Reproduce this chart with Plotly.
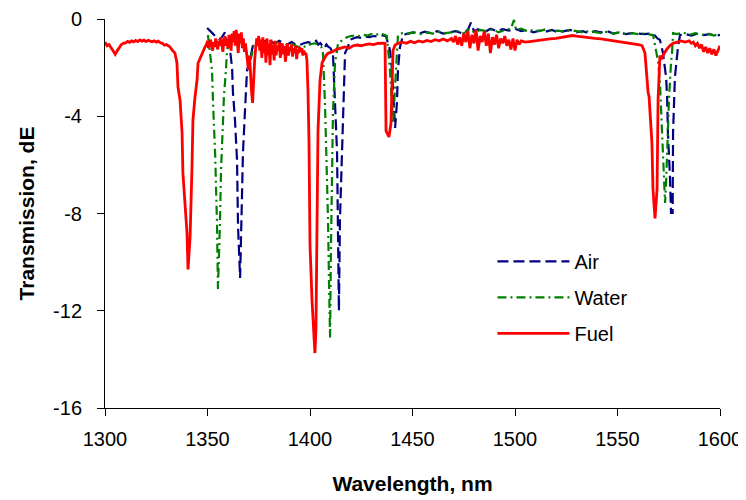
import plotly.graph_objects as go

# ---- Data ----
air_wl = [1349.8, 1351, 1352, 1353.7, 1355, 1356.1, 1357, 1358.5, 1359, 1360.0, 1361, 1362.0, 1362.4, 1363.4,
          1364.4, 1364.9, 1365.9, 1366.8, 1367.3, 1368.3, 1369.3, 1370.7, 1372.2,
          1373, 1375, 1377, 1379, 1381, 1383, 1385, 1387, 1389, 1391, 1393, 1395, 1397, 1399, 1401, 1403,
          1404, 1405, 1406, 1407, 1408, 1409, 1410, 1411.2, 1413.2, 1413.7, 1414.1, 1414.6, 1415.6, 1416.1,
          1417.1, 1418.5, 1419.5, 1421, 1423, 1425, 1427, 1429, 1431, 1433, 1435, 1437, 1439.0, 1440.0,
          1441.5, 1442.4, 1442.9, 1443.9, 1445.4, 1447, 1450, 1453, 1456, 1459, 1462, 1465, 1468, 1471,
          1474, 1477, 1478.5, 1480, 1482, 1485, 1488, 1491, 1494, 1497, 1500, 1503, 1506, 1509, 1512, 1515,
          1518, 1521, 1524, 1527, 1530, 1533, 1536, 1539, 1542, 1545, 1548, 1551, 1554, 1557, 1560, 1563,
          1566, 1568, 1569.5, 1570.7, 1572.2, 1573.7, 1574.2, 1574.6, 1575.6, 1576.1, 1576.9, 1577.1, 1578.0,
          1579.0, 1579.5, 1580.5, 1583, 1586, 1589, 1592, 1595, 1598, 1600]
air_db = [-0.37, -0.45, -0.55, -0.7, -0.8, -0.86, -0.75, -0.55, -0.8, -1.0, -1.3, -2.0, -3.0, -4.15,
          -5.8, -8.55, -10.65, -7.6, -5.5, -3.74, -2.1, -1.7, -1.07,
          -1.0, -0.9, -0.95, -0.86, -0.95, -1.0, -0.9, -1.0, -1.05, -0.95, -1.05, -1.07, -1.0, -0.95, -1.0, -0.9,
          -1.05, -0.99, -1.1, -1.2, -1.05, -1.15, -1.2, -1.4, -5.5, -8.3, -12.0, -8.3, -5.5, -3.45,
          -1.4, -1.15, -0.86, -0.8, -0.75, -0.78, -0.72, -0.75, -0.7, -0.72, -0.68, -0.7, -1.28, -2.1,
          -4.48, -3.45, -2.1, -1.15, -0.66, -0.62, -0.55, -0.6, -0.52, -0.58, -0.5, -0.6, -0.55, -0.5,
          -0.58, -0.45, -0.15, -0.5, -0.42, -0.55, -0.4, -0.5, -0.42, -0.48, -0.4, -0.5, -0.45, -0.55, -0.48, -0.52,
          -0.45, -0.55, -0.5, -0.45, -0.55, -0.5, -0.58, -0.5, -0.55, -0.5, -0.6, -0.55, -0.62, -0.58, -0.6, -0.62,
          -0.6, -0.66, -0.8, -0.86, -1.4, -2.4, -3.2, -4.69, -6.5, -7.98, -7.98, -4.69, -2.4,
          -1.56, -1.15, -0.66, -0.62, -0.68, -0.6, -0.66, -0.62, -0.7, -0.65]

water_wl = [1350.2, 1350.7, 1351.2, 1352.2, 1352.7, 1353.7, 1354.6, 1355.1, 1356.1, 1356.6, 1357.6, 1358.0,
            1359.0, 1359.5, 1361, 1362.5, 1364, 1366, 1367.5, 1368.5, 1369.5, 1370.5, 1371.5, 1372.5, 1374,
            1376, 1378, 1380, 1382, 1384, 1386, 1388, 1390, 1392, 1394, 1396, 1398, 1400, 1402, 1404, 1405.5,
            1406.3, 1407.3, 1408.3, 1408.8, 1409.3, 1409.8, 1410.2, 1410.7, 1411.2, 1412.2, 1413.7, 1416,
            1418, 1420, 1422, 1424, 1426, 1428, 1430, 1432, 1434, 1436, 1437.5, 1439.0, 1440.0, 1440.5,
            1441.5, 1442.4, 1442.9, 1445, 1448, 1451, 1454, 1457, 1460, 1463, 1466, 1469, 1472, 1475, 1478,
            1480, 1483, 1486, 1489, 1492, 1495, 1498, 1499.5, 1500.5, 1503, 1506, 1509, 1512, 1515, 1518,
            1521, 1524, 1527, 1530, 1533, 1536, 1539, 1542, 1545, 1548, 1551, 1554, 1557, 1560, 1563, 1566.5,
            1567.3, 1568.3, 1569.8, 1570.7, 1571.7, 1572.2, 1573.2, 1573.7, 1574.2, 1575.1, 1576.1, 1576.6,
            1577.1, 1579, 1582, 1585, 1588, 1591, 1594, 1597, 1600]
water_db = [-0.66, -1.0, -1.56, -2.1, -3.45, -5.5, -8.3, -11.1, -8.3, -6.2, -4.15, -3.2,
            -2.1, -1.3, -0.74, -0.85, -0.75, -0.8, -0.9, -1.2, -1.6, -1.85, -1.5, -1.1, -0.95,
            -0.9, -0.95, -0.9, -1.0, -0.95, -1.05, -1.0, -1.1, -1.05, -1.15, -1.1, -1.15, -1.05, -1.0, -1.05, -1.15,
            -1.4, -3.45, -6.2, -8.3, -11.0, -13.1, -9.6, -6.9, -3.87, -1.81, -1.0, -0.86,
            -0.75, -0.7, -0.68, -0.7, -0.65, -0.68, -0.62, -0.66, -0.6, -0.64, -0.7, -2.1, -3.45, -4.28,
            -2.8, -1.15, -0.66, -0.58, -0.6, -0.55, -0.62, -0.55, -0.6, -0.52, -0.58, -0.55, -0.5, -0.6, -0.4,
            -0.55, -0.45, -0.5, -0.42, -0.55, -0.45, -0.4, -0.04, -0.45, -0.4, -0.5, -0.45, -0.5, -0.42, -0.5,
            -0.48, -0.52, -0.45, -0.5, -0.55, -0.5, -0.55, -0.58, -0.52, -0.6, -0.55, -0.62, -0.58, -0.62, -0.6, -0.64,
            -0.66, -1.07, -1.75, -2.6, -4.44, -5.8, -7.57, -6.75, -5.1, -3.33, -1.81, -1.4,
            -0.58, -0.62, -0.55, -0.65, -0.58, -0.66, -0.6, -0.68, -0.62]

fuel_wl = [1300, 1301, 1302, 1303, 1304, 1305, 1306, 1307, 1308, 1309, 1310, 1311, 1312, 1313, 1314, 1315,
           1316, 1317, 1318, 1319, 1320, 1321, 1322, 1323, 1324, 1325, 1326, 1327, 1328, 1329, 1330, 1331.7,
           1333, 1334.1, 1335.1, 1335.6, 1336.6, 1337.6, 1338.0, 1339.0, 1340.0, 1340.5, 1341.5, 1342.4,
           1342.9, 1343.9, 1344.9, 1345.4, 1347.3, 1348.8,
           1349.5, 1350, 1350.5, 1351, 1351.5, 1352, 1352.5, 1353, 1353.5, 1354, 1354.5, 1355, 1355.5, 1356,
           1356.5, 1357, 1357.5, 1358, 1358.5, 1359, 1359.5, 1360, 1360.5, 1361, 1361.5, 1362, 1362.5, 1363,
           1363.5, 1364, 1364.5, 1365, 1365.5, 1366, 1366.5, 1367, 1367.5, 1368, 1368.5, 1369, 1369.5, 1370,
           1370.5, 1371, 1371.5, 1372, 1372.5, 1373, 1373.5, 1374, 1374.5, 1375, 1375.5, 1376, 1376.5, 1377,
           1377.5, 1378, 1378.5, 1379, 1379.5, 1380, 1380.5, 1381, 1381.5, 1382, 1382.5, 1383, 1383.5, 1384,
           1384.5, 1385, 1385.5, 1386, 1386.5, 1387, 1387.5, 1388, 1388.5, 1389, 1389.5, 1390, 1390.5, 1391,
           1391.5, 1392, 1392.5, 1393, 1393.5, 1394, 1394.5, 1395, 1395.5, 1396, 1396.5, 1397, 1397.5, 1398,
           1398.5, 1399.0, 1399.5, 1400.0, 1401.0, 1402.0, 1402.4, 1402.9, 1403.4, 1403.9, 1404.9, 1405.9,
           1407.8, 1409, 1411, 1413, 1415, 1417, 1419, 1421, 1423, 1425, 1427, 1429, 1431, 1433, 1435,
           1436.6, 1437.1, 1438.5, 1439.5, 1440.0, 1440.5, 1441.5, 1443, 1445, 1447, 1449, 1451, 1453, 1455,
           1457, 1459, 1461, 1463, 1465, 1467, 1469, 1470, 1471, 1472, 1473, 1474, 1475, 1476, 1477, 1478,
           1479, 1480, 1481, 1482, 1483, 1484, 1485, 1486, 1487, 1488, 1489, 1490, 1491, 1492, 1493, 1494,
           1495, 1496, 1497, 1498, 1499, 1500, 1501, 1502, 1503, 1505, 1508, 1511, 1514, 1517, 1520, 1523,
           1526, 1528, 1530, 1533, 1536, 1539, 1542, 1545, 1548, 1551, 1554, 1557, 1560, 1562, 1563.4,
           1564.9, 1565.4, 1566.8, 1567.3, 1568.3, 1569.3, 1569.8, 1570.2, 1570.7, 1571.5, 1572.5, 1574,
           1575.5, 1577, 1579, 1581, 1583, 1585, 1586, 1587, 1588, 1589, 1590, 1591, 1592, 1593, 1594, 1595,
           1596, 1597, 1598, 1599, 1600]
fuel_db = [-0.95, -1.1, -1.05, -1.2, -1.35, -1.45, -1.3, -1.15, -1.05, -1.0, -0.98, -0.92, -0.96, -0.9, -0.94, -0.88,
           -0.93, -0.86, -0.91, -0.87, -0.93, -0.88, -0.91, -0.94, -0.9, -0.95, -0.91, -0.98, -1.0, -1.08, -1.05, -1.15,
           -1.3, -1.4, -1.81, -2.8, -3.33, -4.69, -6.33, -7.73, -8.8, -10.3, -8.97, -6.21,
           -4.15, -3.21, -2.51, -1.81, -1.4, -1.15,
           -1.05, -0.9, -1.2, -1.0, -0.85, -1.1, -1.3, -0.95, -1.15, -0.8, -1.0, -1.25, -0.9, -1.1,
           -0.75, -1.0, -1.35, -0.9, -0.7, -1.1, -0.85, -1.2, -0.65, -1.0, -1.3, -0.6, -0.95, -0.5,
           -1.1, -0.45, -0.9, -1.4, -0.6, -1.0, -0.55, -1.2, -0.8, -1.35, -1.0, -1.3, -1.6, -2.1,
           -1.5, -2.5, -3.0, -3.45, -2.4, -1.7, -1.2, -0.8, -1.1, -0.7, -1.3, -0.85, -1.6, -0.75,
           -1.4, -0.9, -1.8, -0.8, -1.5, -1.0, -1.9, -0.85, -1.45, -1.05, -1.7, -0.9, -1.5, -1.1,
           -1.3, -0.95, -1.6, -1.15, -1.0, -1.45, -1.1, -1.75, -1.2, -1.0, -1.5, -1.15, -1.3, -1.05,
           -1.55, -1.2, -1.4, -1.1, -1.65, -1.25, -1.4, -1.15, -1.35, -1.2, -1.5, -1.3, -1.45, -1.4,
           -1.7, -2.9, -5.0, -9.3, -11.6, -13.4, -13.74, -12.8, -9.1, -4.6, -2.5, -1.8,
           -1.5, -1.4, -1.35, -1.25, -1.2, -1.15, -1.2, -1.1, -1.07, -1.1, -1.05, -1.02, -1.05, -1.0, -0.99,
           -1.0, -4.6, -4.85, -4.3, -2.5, -1.3, -1.07, -1.0, -0.95, -1.0, -0.92, -0.98, -0.9, -0.95,
           -0.88, -0.93, -0.85, -0.9, -0.82, -0.9, -0.8, -0.95, -0.7, -1.05, -0.75, -1.1, -0.6, -0.95, -0.5, -1.2,
           -0.65, -1.0, -0.45, -1.3, -0.7, -0.95, -0.5, -1.1, -0.6, -1.4, -0.75, -1.05, -0.65, -1.2, -0.8, -1.0,
           -0.7, -1.1, -0.85, -1.25, -0.8, -1.3, -0.85, -1.05, -0.9, -0.95, -0.92, -0.88, -0.85, -0.82, -0.8, -0.76,
           -0.7, -0.68, -0.7, -0.74, -0.76, -0.8, -0.82, -0.86, -0.9, -0.95, -0.98, -1.0, -1.05, -1.1, -1.4,
           -3.0, -3.2, -5.1, -7.0, -8.2, -7.0, -3.3, -2.1, -1.5, -1.65, -1.45, -1.25,
           -1.1, -1.0, -0.95, -0.9, -0.95, -0.9, -1.0, -0.95, -1.1, -1.0, -1.2, -1.05, -1.35, -1.15, -1.4, -1.2,
           -1.45, -1.25, -1.5, -1.3, -1.1]

x_ticks = [1300, 1350, 1400, 1450, 1500, 1550, 1600]
y_ticks = [0, -4, -8, -12, -16]

FONT = "Liberation Sans, Arial, sans-serif"

fig = go.Figure()
fig.add_trace(go.Scatter(x=air_wl, y=air_db, mode="lines", name="Air", legendgroup="a",
                         line=dict(color="#000080", width=2.2, dash="11px,5px")))
fig.add_trace(go.Scatter(x=water_wl, y=water_db, mode="lines", name="Water", legendgroup="w",
                         line=dict(color="#008000", width=2.2, dash="9px,4px,2px,4px")))
fig.add_trace(go.Scatter(x=fuel_wl, y=fuel_db, mode="lines", name="Fuel", legendgroup="f",
                         line=dict(color="#FF0000", width=2.8)))

# The page body has an 8px default margin, so the figure is 8px smaller than the window.
fig.update_layout(
    width=738, height=492,
    margin=dict(l=97, r=26, t=11, b=92),
    paper_bgcolor="white", plot_bgcolor="white",
    font=dict(family=FONT, size=20, color="black"),
    showlegend=True,
    legend=dict(x=0.63, y=0.427, xanchor="left", yanchor="top", traceorder="grouped",
                tracegroupgap=7, itemwidth=72, bgcolor="rgba(0,0,0,0)",
                font=dict(family=FONT, size=20, color="black")),
)
fig.update_xaxes(range=[1300, 1600], tickvals=x_ticks, ticktext=[str(v) for v in x_ticks],
                 automargin=False,
                 showgrid=False, zeroline=False, showline=True, linecolor="black", linewidth=1,
                 ticks="outside", ticklen=7, tickcolor="black", ticklabelstandoff=6,
                 title=dict(text="<b>Wavelength, nm</b>", font=dict(family=FONT, size=21), standoff=27))
fig.update_yaxes(range=[-16, 0], tickvals=y_ticks, ticktext=[str(v) for v in y_ticks],
                 automargin=False,
                 showgrid=False, zeroline=False, showline=True, linecolor="black", linewidth=1,
                 ticks="outside", ticklen=7, tickcolor="black", ticklabelstandoff=11,
                 title=dict(text="<b>Transmission, dE</b>", font=dict(family=FONT, size=21), standoff=12))

fig.write_html("out.html")
